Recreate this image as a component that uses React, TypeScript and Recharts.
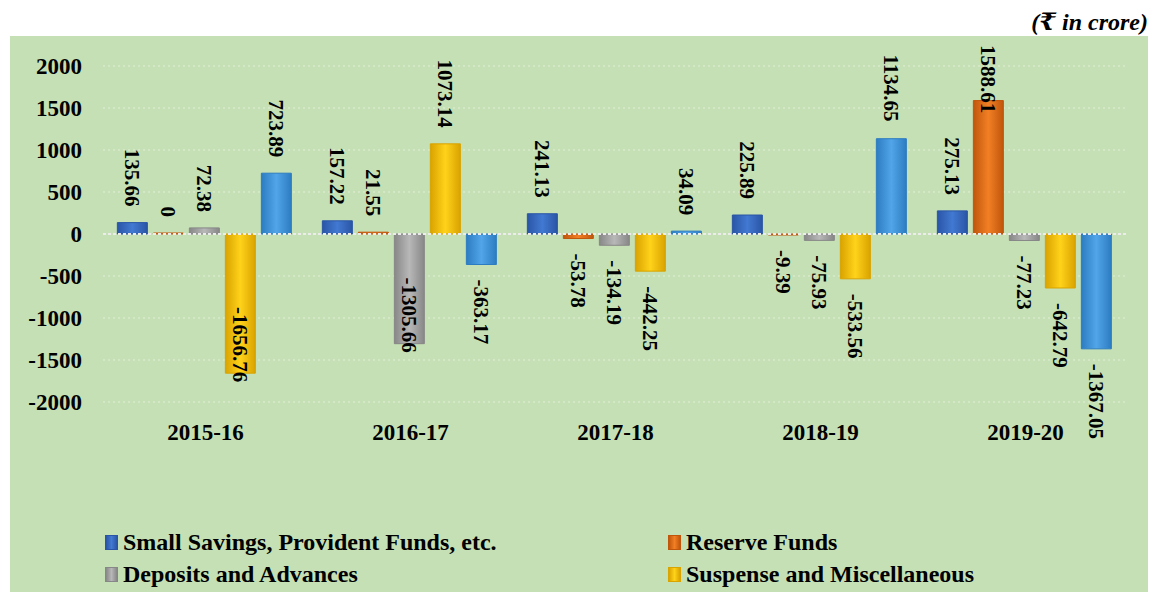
import React from 'react';
import { BarChart, Bar, XAxis, YAxis, CartesianGrid, ReferenceLine, Legend, LabelList } from 'recharts';

const years = ['2015-16', '2016-17', '2017-18', '2018-19', '2019-20'];
const smallSavings = [135.66, 157.22, 241.13, 225.89, 275.13];
const reserveFunds = [0, 21.55, -53.78, -9.39, 1588.61];
const deposits = [72.38, -1305.66, -134.19, -75.93, -77.23];
const suspense = [-1656.76, 1073.14, -442.25, -533.56, -642.79];
const remittances = [723.89, -363.17, 34.09, 1134.65, -1367.05];
const yTicks = [-2000, -1500, -1000, -500, 0, 500, 1000, 1500, 2000];

const series = [
  { key: 'ss', name: 'Small Savings, Provident Funds, etc.', values: smallSavings, edge: '#2a55a6', mid: '#4279d2', inLegend: true },
  { key: 'rf', name: 'Reserve Funds', values: reserveFunds, edge: '#c0560c', mid: '#f27f24', inLegend: true },
  { key: 'da', name: 'Deposits and Advances', values: deposits, edge: '#878787', mid: '#b8b8b8', inLegend: true },
  { key: 'sm', name: 'Suspense and Miscellaneous', values: suspense, edge: '#d9a300', mid: '#ffd21a', inLegend: true },
  { key: 'rm', name: 'Remittances', values: remittances, edge: '#2c7cc2', mid: '#52a5e8', inLegend: false },
];

const data = years.map((year, i) => {
  const row: Record<string, string | number> = { year };
  series.forEach((s) => { row[s.key] = s.values[i]; });
  return row;
});

const FONT = 'Liberation Serif, Tinos, DejaVu Serif, Times New Roman, serif';
const W = 1138;
const H = 556;
const PLOT_LEFT = 93;
const PLOT_RIGHT = 20;
const PLOT_TOP = 30;
const PLOT_BOTTOM = 366;
const LABEL_SIZE = 21;

// rough width of a bold serif number string
const textLen = (s: string) =>
  s.split('').reduce((acc, c) => acc + (c === '.' ? 0.25 : c === '-' ? 0.333 : 0.5), 0) * LABEL_SIZE;

const RotatedLabel = (props: any) => {
  const { x, y, width, height, value, index } = props;
  const v = Number(value);
  const txt = String(value);
  const cx = Number(x) + Number(width) / 2;
  const top = Math.min(Number(y), Number(y) + Number(height || 0));
  const bottom = Math.max(Number(y), Number(y) + Number(height || 0));
  const len = textLen(txt);
  let start: number;
  if (v >= 0) {
    start = top - 16 - len;
    if (start < 9) start = 9;
  } else {
    start = bottom + 15;
    const band = (W - PLOT_LEFT - PLOT_RIGHT) / years.length;
    const catCenter = PLOT_LEFT + (index + 0.5) * band;
    // keep clear of the category label under the plot
    if (start + len > PLOT_BOTTOM && Math.abs(cx - catCenter) < 50) start = bottom + 9 - len;
  }
  return (
    <text
      x={cx}
      y={start}
      transform={`rotate(90 ${cx} ${start})`}
      dy="0.35em"
      textAnchor="start"
      fontFamily={FONT}
      fontWeight="bold"
      fontSize={LABEL_SIZE}
      fill="#000"
    >
      {txt}
    </text>
  );
};

const LegendBox = () => {
  const items = series.filter((s) => s.inLegend);
  return (
    <div
      style={{
        display: 'grid',
        gridTemplateColumns: '563px 420px',
        paddingLeft: 95,
        paddingTop: 5,
        height: 65,
        fontFamily: FONT,
        fontWeight: 'bold',
        fontSize: 24,
        color: '#000',
      }}
    >
      {items.map((s) => (
        <div key={s.key} style={{ display: 'flex', alignItems: 'center', height: 30, whiteSpace: 'nowrap' }}>
          <span
            style={{
              display: 'inline-block',
              width: 11,
              height: 13,
              marginRight: 5,
              background: `linear-gradient(to right, ${s.edge}, ${s.mid}, ${s.edge})`,
              border: `1px solid ${s.edge}`,
            }}
          />
          <span>{s.name}</span>
        </div>
      ))}
    </div>
  );
};

const App: React.FC = () => {
  return (
    <div style={{ position: 'relative', width: 1140, height: 584, fontFamily: FONT }}>
      <div
        style={{
          position: 'absolute',
          right: 0,
          top: -1,
          fontFamily: FONT,
          fontWeight: 'bold',
          fontStyle: 'italic',
          fontSize: 24,
        }}
      >
        (₹ in crore)
      </div>
      <div style={{ position: 'absolute', left: 2, top: 28, width: W, height: H, background: '#c5e0b4' }}>
        <BarChart
          width={W}
          height={H}
          data={data}
          margin={{ top: PLOT_TOP, right: PLOT_RIGHT, left: 0, bottom: 0 }}
          barCategoryGap="7%"
          barGap={6}
        >
          <defs>
            {series.map((s) => (
              <linearGradient key={s.key} id={`g-${s.key}`} x1="0" y1="0" x2="1" y2="0">
                <stop offset="0%" stopColor={s.edge} />
                <stop offset="50%" stopColor={s.mid} />
                <stop offset="100%" stopColor={s.edge} />
              </linearGradient>
            ))}
          </defs>
          <CartesianGrid vertical={false} stroke="#e2eed9" strokeDasharray="2 3" />
          <XAxis
            dataKey="year"
            axisLine={false}
            tickLine={false}
            tickSize={0}
            tickMargin={22}
            height={120}
            tick={{ fill: '#000', fontSize: 23, fontWeight: 'bold', fontFamily: FONT }}
          />
          <YAxis
            domain={[-2000, 2000]}
            ticks={yTicks}
            axisLine={false}
            tickLine={false}
            tickSize={0}
            tickMargin={21}
            width={PLOT_LEFT}
            tick={{ fill: '#000', fontSize: 23, fontWeight: 'bold', fontFamily: FONT }}
          />
          <ReferenceLine y={0} stroke="#ececec" strokeWidth={2} strokeDasharray="3 2" />
          <Legend verticalAlign="bottom" align="left" content={<LegendBox />} />
          {series.map((s) => (
            <Bar
              key={s.key}
              dataKey={s.key}
              name={s.name}
              fill={`url(#g-${s.key})`}
              stroke={s.edge}
              strokeWidth={1}
              minPointSize={1}
              legendType={s.inLegend ? 'square' : 'none'}
              isAnimationActive={false}
            >
              <LabelList dataKey={s.key} content={<RotatedLabel />} />
            </Bar>
          ))}
        </BarChart>
      </div>
    </div>
  );
};

export default App;
